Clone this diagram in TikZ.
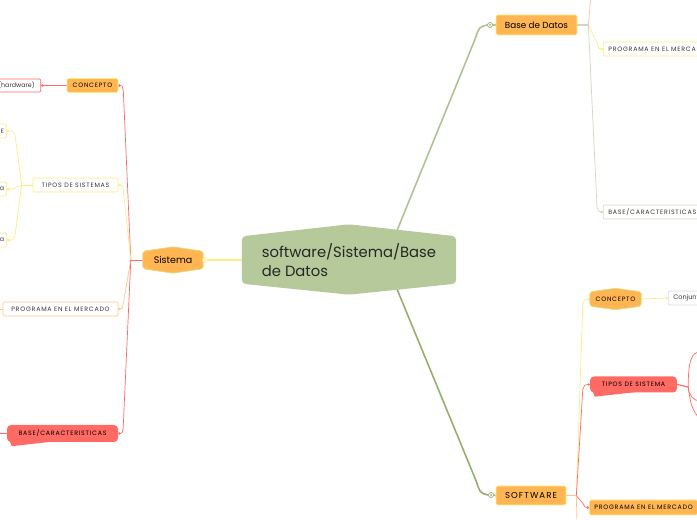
\documentclass[tikz,border=0pt]{standalone}
\usepackage{fontspec}
\setmainfont{Poppins}
\newfontfamily\lblfont[LetterSpace=12]{Poppins}
\usetikzlibrary{arrows.meta,calc}
\definecolor{mapgreen}{RGB}{181,201,154}
\definecolor{maporange}{RGB}{255,181,82}
\definecolor{mapyellow}{RGB}{249,238,128}
\definecolor{mapred}{RGB}{255,106,100}
\definecolor{mapolive}{RGB}{150,174,110}
\definecolor{mappeach}{RGB}{255,196,140}
\definecolor{mapsage}{RGB}{205,218,185}
\definecolor{maptext}{RGB}{55,55,55}
\pgfdeclarelayer{edges}
\pgfdeclarelayer{shapes}
\pgfsetlayers{edges,shapes,main}

\begin{document}
\begin{tikzpicture}[x=1pt, y=1pt,
  every node/.style={text=maptext, inner sep=0pt},
  lbl/.style={font=\lblfont\fontsize{6.3}{7}\selectfont, minimum height=14pt, inner xsep=5pt},
  whitebox/.style={lbl, draw=#1, fill=white, line width=0.7pt, rounded corners=1pt},
  orangebox/.style={lbl, draw=mapyellow, fill=maporange, line width=0.7pt, rounded corners=1.5pt, text=black},
  bubble/.style={lbl, fill=mapred, rounded corners=4pt, text=black},
  knob/.style={circle, draw=#1, fill=white, line width=0.7pt, minimum size=5pt,
    path picture={\fill[#1] (path picture bounding box.center) circle (1pt);}},
  link/.style={draw=#1, line width=0.7pt, -{Circle[length=2.4pt]}},
  stem/.style={draw=#1, line width=0.7pt},
  trunk/.style={draw=#1, line width=1.6pt},
]
  \useasboundingbox (0,0) rectangle (697,520);
  \clip (0,0) rectangle (697,520);

  % centre
  \node[font=\fontsize{14.8}{18.5}\selectfont, align=left, minimum width=214pt, minimum height=47pt, text=black!85]
    (ctr) at (349,260) {software/Sistema/Base\\de Datos};

  % Sistema branch
  \node[font=\fontsize{9.5}{11}\selectfont, minimum width=60pt, minimum height=17pt, text=black] (sis) at (173,260) {Sistema};
  \node[knob=mapyellow] (sisk) at (205,260) {};
  \node[orangebox, minimum width=51pt] (scon) at (92.5,434.5) {CONCEPTO};
  \node[whitebox=mapred, anchor=east, inner xsep=6pt, minimum height=13pt, font=\fontsize{6.3}{7}\selectfont] (shw) at (41,434.5) {(hardware)};
  \node[whitebox=mapyellow, minimum width=85pt] (stip) at (75.5,335) {TIPOS DE SISTEMAS};
  \node[whitebox=mapyellow, anchor=east, inner xsep=2.5pt] (stA) at (7,389) {E};
  \node[whitebox=mapyellow, anchor=east, inner xsep=2.5pt] (stB) at (7,331) {a};
  \node[whitebox=mapyellow, anchor=east, inner xsep=2.5pt] (stC) at (7,280) {a};
  \node[whitebox=mappeach, minimum width=115pt] (sprog) at (60.5,211) {PROGRAMA EN EL MERCADO};
  \node[bubble, minimum width=111pt, minimum height=17pt] (sbase) at (62.5,86.5) {BASE/CARACTERISTICAS};
  \coordinate (sprogL) at (-20,211);
  \coordinate (sbaseL) at (-20,86.5);

  % Base de Datos branch
  \node[orangebox, font=\fontsize{8.8}{10}\selectfont, minimum width=81pt, minimum height=20pt] (bd) at (536.5,495) {Base de Datos};
  \node[knob=mapolive] (bdk) at (490,495) {};
  \node[whitebox=mapyellow, anchor=west] (bdprog) at (603,471) {PROGRAMA EN EL MERCADO};
  \node[whitebox=mapsage, anchor=west] (bdbase) at (603,308) {BASE/CARACTERISTICAS};
  \coordinate (bdtop) at (591,525);

  % SOFTWARE branch
  \node[orangebox, font=\lblfont\fontsize{8.6}{10}\selectfont, minimum width=70pt, minimum height=19pt] (sw) at (531,24.5) {SOFTWARE};
  \node[knob=mapolive] (swk) at (491,25) {};
  \node[lbl, text=black, minimum width=51pt] (swcon) at (615.5,221) {CONCEPTO};
  \node[whitebox=black!15, anchor=west, font=\fontsize{6.5}{7}\selectfont] (swconj) at (668,222) {Conjunto};
  \node[bubble, minimum width=87pt, minimum height=16pt] (swtip) at (633.5,135.5) {TIPOS DE SISTEMA};
  \node[orangebox, anchor=west, minimum height=15pt] (swprog) at (589,12.5) {PROGRAMA EN EL MERCADO};
  \coordinate (swbot) at (577,-5);
  \coordinate (tipA) at (700,168);
  \coordinate (tipB) at (700,119);
  \coordinate (tipC) at (700,100);

  \begin{pgfonlayer}{shapes}
    \fill[mapgreen, rounded corners=4pt] (ctr.north west) -- ([yshift=12pt]ctr.north) -- (ctr.north east)
      -- (ctr.south east) -- ([yshift=-11pt]ctr.south) -- (ctr.south west) -- cycle;
    \foreach \n/\p in {sis/4.5, swcon/3.5} {
      \filldraw[fill=maporange, draw=mapyellow!75!mapolive, line width=0.7pt, rounded corners=2pt]
        (\n.north west) -- ([yshift=\p pt]\n.north) -- (\n.north east)
        -- (\n.south east) -- ([yshift=-\p pt]\n.south) -- (\n.south west) -- cycle;
    }
    \foreach \n in {sbase, swtip} {
      \fill[mapred] ([xshift=3pt,yshift=1pt]\n.south west) -- ([xshift=5pt,yshift=-4pt]\n.south west)
        .. controls ([xshift=25pt,yshift=-2pt]\n.south west) .. ([xshift=45pt,yshift=0.5pt]\n.south west) -- cycle;
    }
  \end{pgfonlayer}

  \begin{pgfonlayer}{edges}
    % trunks
    \draw[trunk=mapyellow, line width=1.2pt] (ctr.west) -- (sisk) -- (sis.east);
    \draw[trunk=mapolive!75!white] ([xshift=36pt]ctr.center) -- ([shift={(-12pt,-14pt)}]bdk.west)
      .. controls ([shift={(-8pt,-2pt)}]bdk.west) .. (bdk.west);
    \draw[trunk=mapolive!75!white] (bdk) -- (bd.west);
    \draw[trunk=mapolive] ([xshift=36pt]ctr.center) -- ([shift={(-12pt,14pt)}]swk.west)
      .. controls ([shift={(-8pt,2pt)}]swk.west) .. (swk.west);
    \draw[trunk=mapolive] (swk) -- (sw.west);

    % Sistema
    \draw[stem=mapred] (sis.west) -- ++(-12,0) coordinate (sisj);
    \draw[link=mapred] (sisj) -- ([shift={(5pt,-6pt)}]scon.east) .. controls ([xshift=4pt]scon.east) .. (scon.east);
    \draw[link=mapyellow] (sisj) -- ([shift={(5pt,-6pt)}]stip.east) .. controls ([xshift=4pt]stip.east) .. (stip.east);
    \draw[link=mappeach] (sisj) -- ([shift={(5pt,6pt)}]sprog.east) .. controls ([xshift=4pt]sprog.east) .. (sprog.east);
    \draw[link=mapred] (sisj) -- ([shift={(5pt,6pt)}]sbase.east) .. controls ([xshift=4pt]sbase.east) .. (sbase.east);
    \draw[link=mapred] (scon.west) -- (shw.east);
    \draw[stem=mapyellow] (stip.west) -- ++(-11,0) coordinate (stipj);
    \draw[link=mapyellow] (stipj) -- ([shift={(8pt,-4pt)}]stA.east) .. controls ([xshift=6pt]stA.east) .. (stA.east);
    \draw[link=mapyellow] (stipj) -- ([xshift=6pt]stB.east) -- (stB.east);
    \draw[link=mapyellow] (stipj) -- ([shift={(8pt,4pt)}]stC.east) .. controls ([xshift=6pt]stC.east) .. (stC.east);
    \draw[stem=mappeach] (sprog.west) -- (sprogL);
    \draw[stem=mapred] (sbase.west) -- (sbaseL);

    % Base de Datos
    \draw[stem=mapsage, line width=1.2pt] (bd.east) -- ++(11,0) coordinate (bdj);
    \draw[stem=mappeach] (bdj) -- (bdtop);
    \draw[link=mapyellow] (bdj) -- ([shift={(-5pt,4pt)}]bdprog.west) .. controls ([xshift=-4pt]bdprog.west) .. (bdprog.west);
    \draw[link=mapsage] (bdj) -- ([shift={(-6pt,5pt)}]bdbase.west) .. controls ([xshift=-4pt]bdbase.west) .. (bdbase.west);

    % SOFTWARE
    \draw[stem=mappeach, line width=1.2pt] (sw.east) -- ++(10,0) coordinate (swj);
    \draw[link=mapyellow] (swj) -- ([shift={(-7pt,-5pt)}]swcon.west) .. controls ([xshift=-5pt]swcon.west) .. (swcon.west);
    \draw[link=mapred] (swj) -- ([shift={(-7pt,-5pt)}]swtip.west) .. controls ([xshift=-5pt]swtip.west) .. (swtip.west);
    \draw[link=mapred] (swj) -- ([shift={(-6pt,4pt)}]swprog.west) .. controls ([xshift=-4pt]swprog.west) .. (swprog.west);
    \draw[stem=mappeach] (swj) -- (swbot);
    \draw[link=mapyellow] (swcon.east) -- (swconj.west);
    \draw[stem=mapred, line width=1.2pt] (swtip.east) -- ++(11,-2.5) coordinate (tipj);
    \draw[stem=mapred] (tipj) .. controls ([yshift=27pt]tipj) and ([xshift=-8pt]tipA) .. (tipA);
    \draw[stem=mapred] (tipj) .. controls ([yshift=-8pt]tipj) and ([xshift=-6pt]tipB) .. (tipB);
    \draw[stem=mapred] (tipj) .. controls ([xshift=3pt,yshift=-20pt]tipj) .. (tipC);
  \end{pgfonlayer}
\end{tikzpicture}
\end{document}
